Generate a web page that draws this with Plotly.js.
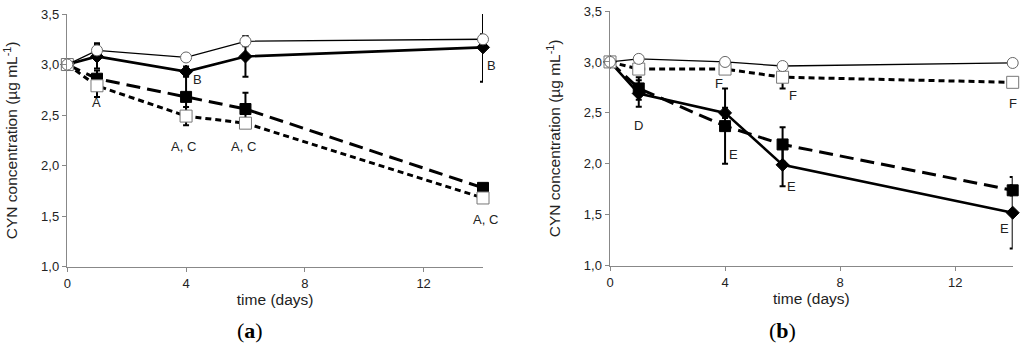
<!DOCTYPE html>
<html><head><meta charset="utf-8">
<script src="https://cdn.plot.ly/plotly-3.0.1.min.js"></script>
<style>html,body{margin:0;padding:0;background:#fff}#chart{width:1024px;height:349px}</style>
</head><body><div id="chart"></div>
<script>
// time points (days)
const days = [0, 1, 4, 6, 14];

// Panel (a)
const aCircle = [3.00, 3.14, 3.07, 3.23, 3.25];
const aCircleErr = [0, 0.07, 0.03, 0.05, 0.05];
const aDiamond = [3.00, 3.08, 2.93, 3.08, 3.17];
const aDiamondErr = [0, 0.12, 0.05, 0.20, 0.34];
const aFSquare = [3.00, 2.86, 2.68, 2.56, 1.78];
const aFSquareErr = [0, 0.08, 0.21, 0.16, 0.03];
const aOSquare = [3.00, 2.79, 2.49, 2.42, 1.68];
const aOSquareErr = [0, 0.11, 0.09, 0.04, 0.03];

// Panel (b)
const bCircle = [3.00, 3.03, 3.00, 2.96, 2.99];
const bCircleErr = [0, 0.02, 0.02, 0.02, 0.02];
const bDiamond = [3.00, 2.69, 2.50, 1.99, 1.52];
const bDiamondErr = [0, 0.13, 0.05, 0.21, 0.35];
const bFSquare = [3.00, 2.74, 2.37, 2.19, 1.74];
const bFSquareErr = [0, 0.11, 0.37, 0.17, 0.05];
const bOSquare = [3.00, 2.93, 2.93, 2.85, 2.80];
const bOSquareErr = [0, 0.03, 0.03, 0.11, 0.03];

// letter labels: day, value, text, pixel shift
const aLabelX = [1.0, 4.4, 3.9, 5.95, 14, 14];
const aLabelY = [2.62, 2.85, 2.19, 2.19, 2.99, 1.47];
const aLabelText = ['A', 'B', 'A, C', 'A, C', 'B', 'A, C'];
const aLabelShift = [0, 0, 0, 0, 8, 2];
const bLabelX = [1.0, 3.8, 4.3, 6.35, 6.3, 14.0, 13.7];
const bLabelY = [2.38, 2.79, 2.09, 2.67, 1.78, 2.59, 1.37];
const bLabelText = ['D', 'F', 'E', 'F', 'E', 'F', 'E'];
const bLabelShift = [0, 0, 0, 0, 0, 0, 0];

function series(y, err, xa, ya, marker, line) {
  return {
    x: days, y: y, xaxis: xa, yaxis: ya, type: 'scatter', mode: 'lines+markers',
    cliponaxis: false, showlegend: false, hoverinfo: 'skip',
    error_y: {type: 'data', array: err, visible: true, color: '#000', thickness: 2, width: 3},
    marker: marker, line: line
  };
}
function panel(xa, ya, circ, circE, dia, diaE, fsq, fsqE, osq, osqE) {
  return [
    series(fsq, fsqE, xa, ya, {symbol: 'square', size: 11, color: '#000', line: {color: '#000', width: 1}},
      {color: '#000', width: 3, dash: '14px,7px'}),
    series(dia, diaE, xa, ya, {symbol: 'diamond', size: 10, color: '#000', line: {color: '#000', width: 1}},
      {color: '#000', width: 2.6}),
    series(osq, osqE, xa, ya, {symbol: 'square', size: 12, color: '#fff', line: {color: '#777', width: 1}},
      {color: '#000', width: 3, dash: '6px,4px'}),
    series(circ, circE, xa, ya, {symbol: 'circle', size: 11, color: '#fff', line: {color: '#666', width: 1}},
      {color: '#000', width: 1.3})
  ];
}

const data = [].concat(
  panel('x', 'y', aCircle, aCircleErr, aDiamond, aDiamondErr, aFSquare, aFSquareErr, aOSquare, aOSquareErr),
  panel('x2', 'y2', bCircle, bCircleErr, bDiamond, bDiamondErr, bFSquare, bFSquareErr, bOSquare, bOSquareErr)
);

const tickFont = {family: 'Liberation Sans, Arial, sans-serif', size: 13, color: '#222'};
const titleFont = {family: 'Liberation Sans, Arial, sans-serif', size: 15.5, color: '#222'};
function xax(domain, anchor) {
  return {domain: domain, anchor: anchor, range: [0, 14], tickvals: [0, 4, 8, 12],
    showline: true, linecolor: '#888', linewidth: 1.5, ticks: 'outside', ticklen: 4, tickcolor: '#888',
    showgrid: false, zeroline: false, tickfont: tickFont,
    title: {text: 'time (days)', font: titleFont, standoff: 4}};
}
function yax(domain, anchor) {
  return {domain: domain, anchor: anchor, range: [1, 3.5], dtick: 0.5, tick0: 1, tickformat: '.1f',
    showline: true, linecolor: '#888', linewidth: 1.5, ticks: 'outside', ticklen: 4, tickcolor: '#888',
    showgrid: false, zeroline: false, tickfont: tickFont,
    title: {text: 'CYN concentration (µg mL<sup>-1</sup>)', font: titleFont, standoff: 19}};
}

const labFont = {family: 'Liberation Sans, Arial, sans-serif', size: 13, color: '#222'};
const annotations = [];
aLabelText.forEach((t, i) => annotations.push({x: aLabelX[i], y: aLabelY[i], xref: 'x', yref: 'y', text: t, showarrow: false, xshift: aLabelShift[i], xanchor: 'center', yanchor: 'middle', font: labFont}));
bLabelText.forEach((t, i) => annotations.push({x: bLabelX[i], y: bLabelY[i], xref: 'x2', yref: 'y2', text: t, showarrow: false, xshift: bLabelShift[i], xanchor: 'center', yanchor: 'middle', font: labFont}));
const capFont = {family: 'Liberation Serif, Times New Roman, serif', size: 22, color: '#000'};
annotations.push({x: 250 / 1024, y: (349 - 330) / 349, xref: 'paper', yref: 'paper', xanchor: 'center', yanchor: 'middle', text: '(<b>a</b>)', showarrow: false, font: capFont});
annotations.push({x: 782 / 1024, y: (349 - 330) / 349, xref: 'paper', yref: 'paper', xanchor: 'center', yanchor: 'middle', text: '(<b>b</b>)', showarrow: false, font: capFont});

const layout = {
  width: 1024, height: 349, margin: {l: 0, r: 0, t: 0, b: 0},
  paper_bgcolor: '#fff', plot_bgcolor: '#fff', separators: ',.',
  showlegend: false,
  xaxis: xax([67.3 / 1024, 483 / 1024], 'y'),
  yaxis: yax([(349 - 266.7) / 349, (349 - 14) / 349], 'x'),
  xaxis2: xax([610 / 1024, 1012.7 / 1024], 'y2'),
  yaxis2: yax([(349 - 265.7) / 349, (349 - 11) / 349], 'x2'),
  annotations: annotations
};
Plotly.newPlot('chart', data, layout, {staticPlot: true});
</script></body></html>
